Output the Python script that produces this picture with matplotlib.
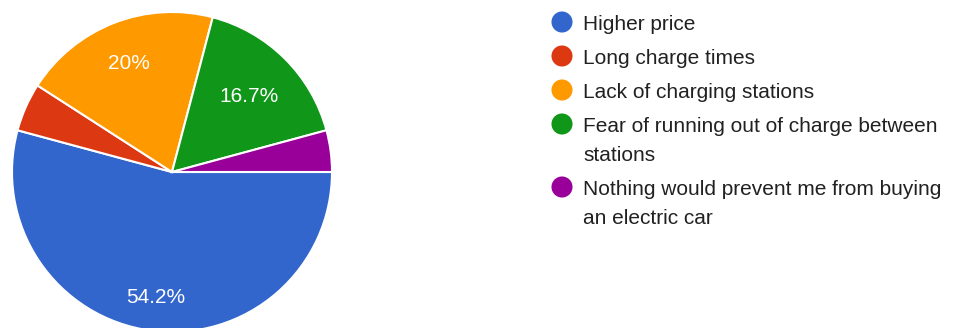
import matplotlib.pyplot as plt
import numpy as np

plt.rcParams['font.family'] = ['Liberation Sans', 'DejaVu Sans']

# survey answers (share of respondents, %)
categories = [
    'Higher price',
    'Long charge times',
    'Lack of charging stations',
    'Fear of running out of charge between\nstations',
    'Nothing would prevent me from buying\nan electric car',
]
shares = [54.2, 4.9, 20.0, 16.7, 4.2]
pct_labels = ['54.2%', '', '20%', '16.7%', '']
colors = ['#3366cc', '#dc3912', '#ff9900', '#109618', '#990099']

# label distance from centre (fraction of radius), style only
label_r = [0.78, 0.0, 0.74, 0.68, 0.0]

W, H = 955, 328
fig = plt.figure(figsize=(W / 100, H / 100), dpi=100)

# pie: centre (172,172) px, radius 160 px
ax = fig.add_axes([12 / W, (H - 332) / H, 320 / W, 320 / H])
wedges, _ = ax.pie(shares, colors=colors, startangle=0, counterclock=False,
                   radius=1.0,
                   wedgeprops=dict(edgecolor='white', linewidth=1.5))
ax.set_xlim(-1, 1)
ax.set_ylim(-1, 1)
ax.set_aspect('equal')
ax.axis('off')

for w, lab, r in zip(wedges, pct_labels, label_r):
    if not lab:
        continue
    mid = np.deg2rad((w.theta1 + w.theta2) / 2)
    ax.text(r * np.cos(mid), r * np.sin(mid), lab, ha='center', va='center_baseline',
            color='white', fontsize=15)

# legend drawn in pixel space
lg = fig.add_axes([0, 0, 1, 1])
lg.set_xlim(0, W)
lg.set_ylim(H, 0)
lg.axis('off')
lg.patch.set_alpha(0)

y = 30
for cat, c in zip(categories, colors):
    lines = cat.split('\n')
    lg.scatter([562], [y - 8], s=230, color=c, edgecolors='none')
    for i, line in enumerate(lines):
        lg.text(583, y + 29 * i, line, ha='left', va='baseline',
                fontsize=15, color='#212121')
    y += 34 + 29 * (len(lines) - 1)

fig.savefig('out.png', dpi=100)
